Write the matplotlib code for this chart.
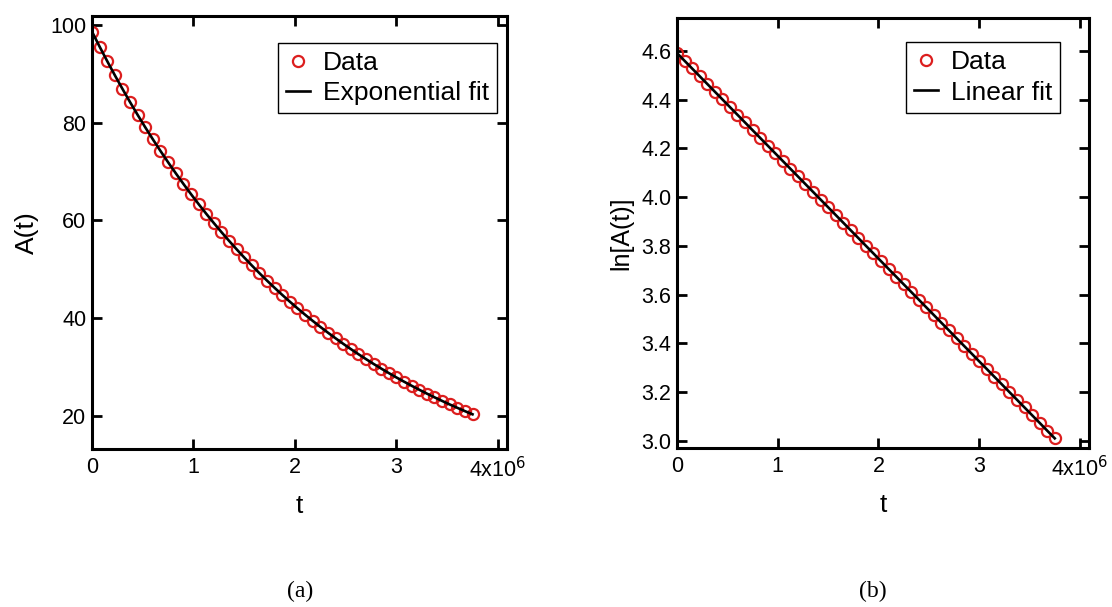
import numpy as np
import matplotlib
matplotlib.use('Agg')
import matplotlib.pyplot as plt

plt.rcParams['font.family'] = ['Liberation Sans', 'DejaVu Sans']

# time points (units of 1e6) and activity
t = [0.000, 0.075, 0.150, 0.225, 0.300, 0.375, 0.450, 0.525, 0.600, 0.675,
     0.750, 0.825, 0.900, 0.975, 1.050, 1.125, 1.200, 1.275, 1.350, 1.425,
     1.500, 1.575, 1.650, 1.725, 1.800, 1.875, 1.950, 2.025, 2.100, 2.175,
     2.250, 2.325, 2.400, 2.475, 2.550, 2.625, 2.700, 2.775, 2.850, 2.925,
     3.000, 3.075, 3.150, 3.225, 3.300, 3.375, 3.450, 3.525, 3.600, 3.675,
     3.750]
A = [98.60, 95.53, 92.56, 89.68, 86.89, 84.18, 81.56, 79.02, 76.56, 74.18,
     71.87, 69.64, 67.47, 65.37, 63.33, 61.36, 59.45, 57.60, 55.81, 54.07,
     52.39, 50.76, 49.18, 47.65, 46.17, 44.73, 43.34, 41.99, 40.68, 39.42,
     38.19, 37.01, 35.86, 34.74, 33.66, 32.61, 31.60, 30.61, 29.66, 28.74,
     27.84, 26.98, 26.14, 25.33, 24.54, 23.78, 23.04, 22.32, 21.63, 20.95,
     20.30]

xticks = [0, 1, 2, 3, 4]
xticklabels = ['0', '1', '2', '3', '4x10$^6$']
yticks_a = [20, 40, 60, 80, 100]
yticks_b = [3.0, 3.2, 3.4, 3.6, 3.8, 4.0, 4.2, 4.4, 4.6]

t = np.array(t)
A = np.array(A)
lnA = np.log(A)

fig = plt.figure(figsize=(11.12, 6.07), dpi=100)
W, H = 1112, 607
ax1 = fig.add_axes([92 / W, 1 - 449 / H, (507 - 92) / W, (449 - 16) / H])
ax2 = fig.add_axes([677 / W, 1 - 448 / H, (1089 - 677) / W, (448 - 18) / H])

red = '#dc1e1e'


def style(ax):
    for s in ax.spines.values():
        s.set_linewidth(2.2)
    ax.tick_params(direction='in', length=7, width=2, top=True, right=True,
                   labelsize=15.5)
    ax.tick_params(axis='x', pad=6)
    ax.tick_params(axis='y', pad=4)
    ax.set_xticks(xticks)
    ax.set_xticklabels(xticklabels)
    ax.set_xlim(0, 4.09)


def legend(ax, anchor):
    ax.legend(loc='upper right', bbox_to_anchor=anchor, fontsize=19,
              fancybox=False, edgecolor='black', framealpha=1,
              handlelength=0.9, handletextpad=0.5, borderaxespad=0,
              labelspacing=0.25, borderpad=0.3)


# (a) A(t) with exponential fit
ax1.plot(t, A, 'o', mfc='none', mec=red, ms=8, mew=1.6, label='Data')
ax1.plot(t, A, '-', color='black', lw=1.9, label='Exponential fit')
style(ax1)
ax1.set_yticks(yticks_a)
ax1.set_ylim(13.2, 101.8)
ax1.set_xlabel('t', fontsize=19, labelpad=8)
ax1.set_ylabel('A(t)', fontsize=19, labelpad=8)
legend(ax1, (0.976, 0.938))

# (b) ln A(t) with linear fit
ax2.plot(t, lnA, 'o', mfc='none', mec=red, ms=8, mew=1.6, label='Data')
ax2.plot(t, lnA, '-', color='black', lw=1.9, label='Linear fit')
style(ax2)
ax2.set_yticks(yticks_b)
ax2.set_yticklabels(['%.1f' % v for v in yticks_b])
ax2.set_ylim(2.971, 4.735)
ax2.set_xlabel('t', fontsize=19, labelpad=8)
ax2.set_ylabel('ln[A(t)]', fontsize=18, labelpad=6)
legend(ax2, (0.930, 0.944))

fig.text(300 / W, 1 - 591 / H, '(a)', family='Liberation Serif', fontsize=17,
         ha='center', va='center')
fig.text(873 / W, 1 - 591 / H, '(b)', family='Liberation Serif', fontsize=17,
         ha='center', va='center')

fig.savefig('out.png', dpi=100)
